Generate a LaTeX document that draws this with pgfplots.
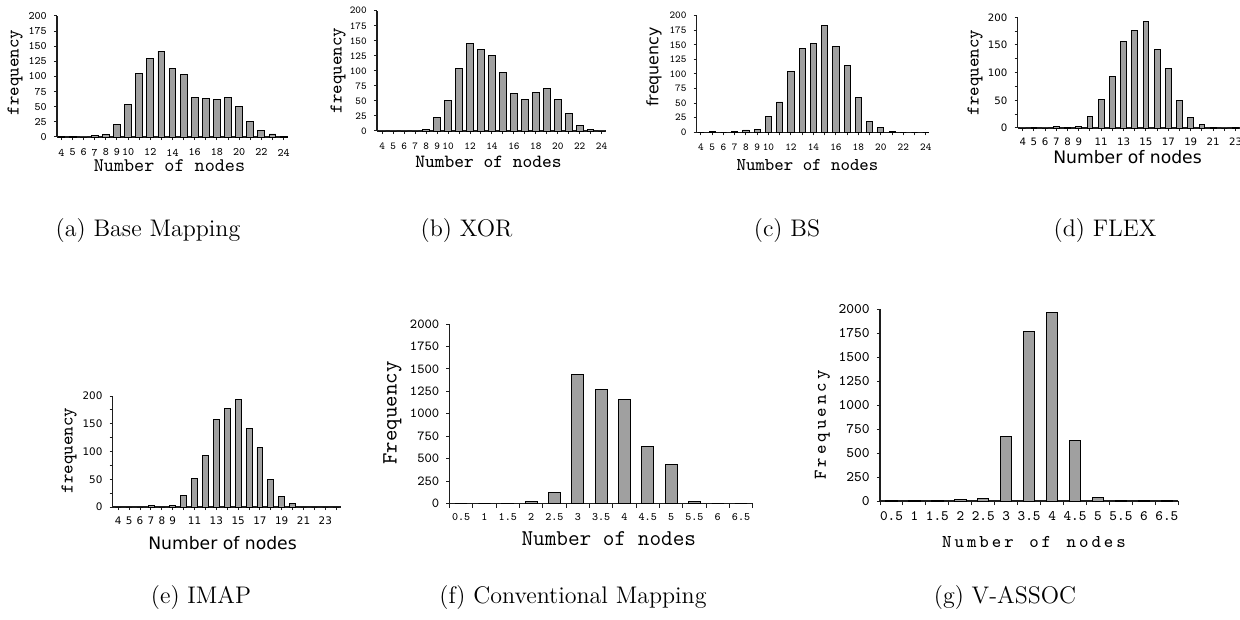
\documentclass[border=0pt]{standalone}
\usepackage{fontspec}
\usepackage{pgfplots}
\pgfplotsset{compat=1.18}
\newfontfamily\dvs{DejaVu Sans}
\definecolor{barfill}{RGB}{160,160,160}
\definecolor{axcol}{RGB}{30,30,30}
\newcommand{\fs}[1]{\fontsize{#1}{#1}\selectfont}
\def\lsp#1{\lspA#1\relax}
\def\lspA#1{\ifx#1\relax\else#1\kern1.5pt\expandafter\lspA\fi}
\pgfplotsset{
  hist/.style={
    scale only axis, anchor=south west,
    axis x line*=bottom, axis y line*=left,
    tick align=outside, ymin=0, ymax=200,
    axis line style={line width=0.75pt, axcol},
    major tick length=1.6pt, minor tick length=1.6pt,
    every tick/.style={line width=0.5pt, axcol},
    ybar, bar width=0.6,
    clip=false,
  },
  bars/.style={fill=barfill, draw=black, line width=0.45pt},
  nodesA/.style={xtick={4,...,24},
    xticklabels={4,5,6,7,8,9,10,,12,,14,,16,,18,,20,,22,,24},
    ytick={0,25,...,200},
    yticklabels={0,25,50,75,100,125,150,175,200}},
  nodesB/.style={xtick={4,...,24},
    xticklabels={4,5,6,7,8,9,,11,,13,,15,,17,,19,,21,,23,},
    ytick={0,50,...,200}, minor ytick={25,75,125,175},
    yticklabels={0,50,100,150,200}},
  halfs/.style={xmin=-0.5, xmax=12.5, ymax=2000,
    xtick={0,...,12},
    xticklabels={0.5,1,1.5,2,2.5,3,3.5,4,4.5,5,5.5,6,6.5},
    major x tick style={draw=none},
    minor xtick={-0.5,0.5,...,12.5},
    ytick={0,250,...,2000},
    yticklabels={0,250,500,750,1000,1250,1500,1750,2000}},
}
\begin{document}
\begin{tikzpicture}
\useasboundingbox (0,0) rectangle (620pt,-310pt);
% (a) Base Mapping
\begin{axis}[hist, nodesA, at={(28.5pt,-68.5pt)}, width=115.5pt, height=60.5pt,
  xmin=3.6, xmax=24.4, bar width=0.62,
  xticklabel style={font=\ttfamily\fs{5.7}, yshift=-0.8pt},
  yticklabel style={font=\ttfamily\fs{5.7}}]
\addplot[bars] coordinates {(4,1)(5,1)(6,0)(7,3)(8,4)(9,20)(10,53)(11,105)(12,130)(13,142)(14,113)(15,104)(16,65)(17,63)(18,62)(19,66)(20,50)(21,26)(22,11)(23,5)(24,1)};
\end{axis}
% (b) XOR
\begin{axis}[hist, nodesA, at={(188.5pt,-65.5pt)}, width=114.5pt, height=60.15pt,
  xmin=3.52, xmax=24.4, bar width=0.6,
  xticklabel style={font=\ttfamily\fs{5.3}, yshift=-0.8pt},
  yticklabel style={font=\ttfamily\fs{5.3}}]
\addplot[bars] coordinates {(4,0)(5,0)(6,0)(7,0)(8,3)(9,22)(10,50)(11,104)(12,146)(13,136)(14,125)(15,97)(16,62)(17,53)(18,64)(19,70)(20,52)(21,29)(22,9)(23,2)(24,0)};
\end{axis}
% (c) BS
\begin{axis}[hist, nodesA, at={(348.35pt,-66.15pt)}, width=115pt, height=58.3pt,
  xmin=3.62, xmax=24.08, bar width=0.55,
  xticklabel style={font=\ttfamily\fs{5.3}, yshift=-0.8pt},
  yticklabel style={font=\ttfamily\fs{5.3}}]
\addplot[bars] coordinates {(4,0)(5,1)(6,0)(7,2)(8,4)(9,5)(10,27)(11,52)(12,104)(13,143)(14,153)(15,183)(16,148)(17,115)(18,59)(19,19)(20,8)(21,1)(22,0)(23,0)(24,0)};
\end{axis}
% (d) FLEX
\begin{axis}[hist, nodesB, at={(508.85pt,-64pt)}, width=116.75pt, height=55.35pt,
  xmin=3.55, xmax=24.4, bar width=0.52,
  xticklabel style={font=\dvs\fs{5.1}},
  yticklabel style={font=\dvs\fs{5.1}}]
\addplot[bars] coordinates {(4,0)(5,1)(6,0)(7,2)(8,1)(9,2)(10,21)(11,51)(12,93)(13,157)(14,177)(15,193)(16,142)(17,107)(18,50)(19,19)(20,7)(21,1)(22,0)(23,1)(24,0)};
\end{axis}
% (e) IMAP
\begin{axis}[hist, nodesB, at={(56.35pt,-253.5pt)}, width=113.95pt, height=55.5pt,
  xmin=3.49, xmax=24.4, bar width=0.55,
  xticklabel style={font=\dvs\fs{5.2}},
  yticklabel style={font=\dvs\fs{5.2}}]
\addplot[bars] coordinates {(4,0)(5,0)(6,0)(7,2)(8,0)(9,2)(10,21)(11,51)(12,93)(13,157)(14,177)(15,193)(16,142)(17,107)(18,50)(19,19)(20,7)(21,0)(22,0)(23,0)(24,0)};
\end{axis}
% (f) Conventional Mapping
\begin{axis}[hist, halfs, at={(224.75pt,-251.75pt)}, width=151.6pt, height=89.75pt,
  bar width=0.52, minor tick length=2pt,
  xticklabel style={font=\ttfamily\fs{5.7}},
  yticklabel style={font=\ttfamily\fs{6.9}}]
\addplot[bars] coordinates {(0,0)(1,0)(2,5)(3,20)(4,120)(5,1440)(6,1275)(7,1160)(8,640)(9,435)(10,25)(11,0)(12,0)};
\end{axis}
% (g) V-ASSOC
\begin{axis}[hist, halfs, at={(440pt,-250.5pt)}, width=149.15pt, height=96pt,
  bar width=0.49, minor tick length=2pt,
  xticklabel style={font=\ttfamily\fs{7.2}},
  yticklabel style={font=\ttfamily\fs{7.3}}]
\addplot[bars] coordinates {(0,2)(1,2)(2,2)(3,12)(4,28)(5,670)(6,1770)(7,1965)(8,635)(9,35)(10,2)(11,2)(12,2)};
\end{axis}
\begin{scope}[x=0.5pt,y=-0.5pt]
% axis labels
\node[anchor=base, font=\ttfamily\fs{9.6}] at (169.5,171.7) {Number of nodes};
\node[rotate=90, font=\ttfamily\fs{9.0}] at (15,72.5) {frequency};
\node[anchor=base, font=\ttfamily\fs{9.3}] at (488.5,167.3) {Number of nodes};
\node[rotate=90, font=\ttfamily\fs{9.0}] at (338,70.5) {frequency};
\node[anchor=base, font=\ttfamily\fs{9.0}] at (807.5,171) {Number of nodes};
\node[rotate=90, font=\dvs\fs{7.9}] at (654,67) {frequency};
\node[anchor=base, font=\dvs\fs{8.6}] at (1127.5,164) {Number of nodes};
\node[rotate=90, font=\ttfamily\fs{9.0}] at (975,72.5) {frequency};
\node[anchor=base, font=\dvs\fs{8.6}] at (222.5,549) {Number of nodes};
\node[rotate=90, font=\ttfamily\fs{9.0}] at (69,450.5) {frequency};
\node[anchor=base, font=\ttfamily\fs{11.3}] at (608.8,545) {Number of nodes};
\node[rotate=90, font=\ttfamily\fs{10.9}] at (392.5,413) {Frequency};
\node[anchor=base, font=\ttfamily\fs{9}, xshift=0.75pt] at (1034,547.7) {\lsp{Number\ of\ nodes}};
\node[rotate=90, font=\ttfamily\fs{9}, yshift=-0.75pt] at (821,423.5) {\lsp{Frequency}};
% captions
\node[anchor=base, font=\fs{12}] at (148,236) {(a) Base Mapping};
\node[anchor=base, font=\fs{12}] at (466.5,236) {(b) XOR};
\node[anchor=base, font=\fs{12}] at (787,236) {(c) BS};
\node[anchor=base, font=\fs{12}] at (1105,236) {(d) FLEX};
\node[anchor=base, font=\fs{12}] at (201,603) {(e) IMAP};
\node[anchor=base, font=\fs{12}] at (573,603) {(f) Conventional Mapping};
\node[anchor=base, font=\fs{12}] at (1005,603) {(g) V-ASSOC};
\end{scope}
\end{tikzpicture}
\end{document}
